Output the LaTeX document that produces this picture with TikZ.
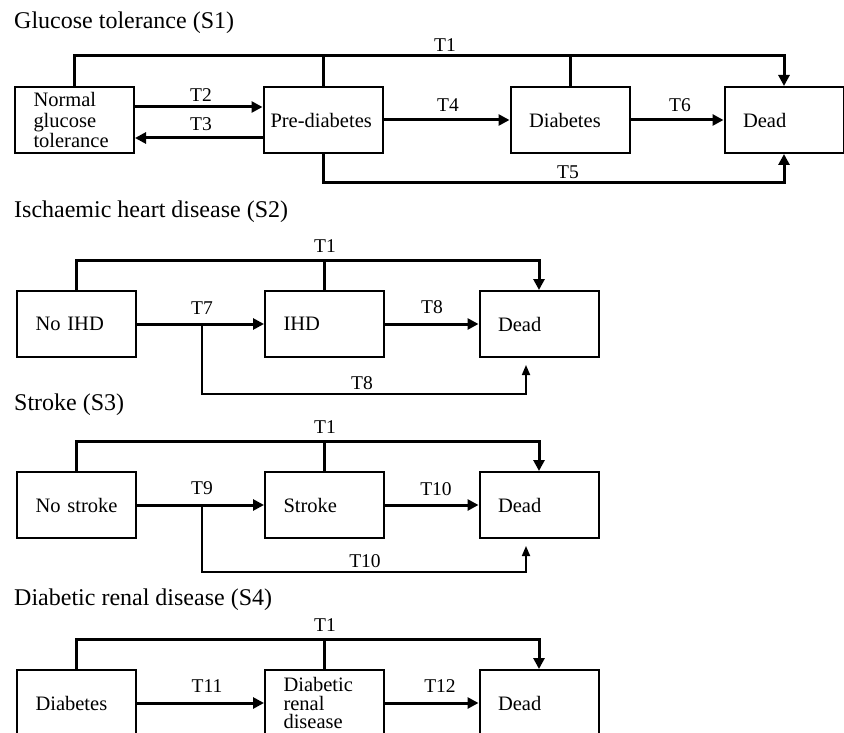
\documentclass[tikz,border=0pt]{standalone}
\usepackage{fontspec}
\setmainfont{Liberation Serif}
\usetikzlibrary{arrows.meta}

\begin{document}
\begin{tikzpicture}[x=1pt, y=-1pt,
        state/.style={rectangle, draw, line width=2pt, minimum height=66pt,
            text width=82pt, inner xsep=18.5pt, inner ysep=0pt, align=left,
            font=\fontsize{20.5}{20.5}\selectfont},
        lbl/.style={inner sep=0pt, font=\fontsize{19.5}{20}\selectfont},
        heading/.style={anchor=base west, inner sep=0pt,
            font=\fontsize{24}{28}\selectfont},
        bus/.style={line width=3pt},
        flow/.style={line width=3pt, -{Triangle[length=11pt, width=11pt]}},
        branch/.style={line width=1.7pt, -{Triangle[length=10pt, width=8pt]},
            shorten >=7pt}]
            \path[use as bounding box, clip] (0, 0) rectangle (844, 733);

            % Glucose tolerance (S1)
            \node (s1) [heading] at (14, 29) {Glucose tolerance (S1)};
            \node (ngt) [state] at (74.5, 120) {Normal\\ glucose\\ tolerance};
            \node (pre) [state, text width=105pt, inner xsep=7pt] at (323, 120) {Pre-diabetes};
            \node (diab) [state] at (570, 120) {Diabetes};
            \node (dead1) [state] at (784, 120) {Dead};
            \node (t1a) [lbl] at (445, 45) {T1};
            \node (t2) [lbl] at (201, 95) {T2};
            \node (t3) [lbl] at (201, 124) {T3};
            \node (t4) [lbl] at (448, 105) {T4};
            \node (t6) [lbl] at (680, 105) {T6};
            \node (t5) [lbl] at (568, 172) {T5};

            \draw[flow] (ngt.north) -- ++(0, -30) -| (dead1.north);
            \draw[bus] (pre.north) -- ++(0, -30);
            \draw[bus] (diab.north) -- ++(0, -30);
            \draw[flow] ([yshift=13pt]ngt.east) -- ([yshift=13pt]pre.west);
            \draw[flow] ([yshift=-18pt]pre.west) -- ([yshift=-18pt]ngt.east);
            \draw[flow] (pre) -- (diab);
            \draw[flow] (diab) -- (dead1);
            \draw[flow] (pre.south) -- ++(0, 29) -| (dead1.south);

            % Ischaemic heart disease (S2)
            \node (s2) [heading] at (14, 218) {Ischaemic heart disease (S2)};
            \node (noihd) [state] at (76.5, 324) {No IHD};
            \node (ihd) [state] at (324.5, 324) {IHD};
            \node (dead2) [state] at (539, 324) {Dead};
            \coordinate (fork2) at (202, 324);
            \node (t1b) [lbl] at (325, 246) {T1};
            \node (t7) [lbl] at (202, 308) {T7};
            \node (t8a) [lbl] at (432, 307) {T8};
            \node (t8b) [lbl] at (362, 383) {T8};

            \draw[flow] (noihd.north) -- ++(0, -30) -| (dead2.north);
            \draw[bus] (ihd.north) -- ++(0, -30);
            \draw[flow] (noihd) -- (ihd);
            \draw[flow] (ihd) -- (dead2);
            \draw[branch] (fork2) -- ++(0, 70) -| ([xshift=-13pt]dead2.south);

            % Stroke (S3)
            \node (s3) [heading] at (14, 410) {Stroke (S3)};
            \node (nostroke) [state] at (76.5, 505) {No stroke};
            \node (stroke) [state] at (324.5, 505) {Stroke};
            \node (dead3) [state] at (539, 505) {Dead};
            \coordinate (fork3) at (202, 505);
            \node (t1c) [lbl] at (325, 427) {T1};
            \node (t9) [lbl] at (202, 488) {T9};
            \node (t10a) [lbl] at (436, 489) {T10};
            \node (t10b) [lbl] at (365, 561) {T10};

            \draw[flow] (nostroke.north) -- ++(0, -30) -| (dead3.north);
            \draw[bus] (stroke.north) -- ++(0, -30);
            \draw[flow] (nostroke) -- (stroke);
            \draw[flow] (stroke) -- (dead3);
            \draw[branch] (fork3) -- ++(0, 67) -| ([xshift=-13pt]dead3.south);

            % Diabetic renal disease (S4)
            \node (s4) [heading] at (14, 605) {Diabetic renal disease (S4)};
            \node (diab4) [state] at (76.5, 703) {Diabetes};
            \node (drd) [state, font=\fontsize{20.5}{18.5}\selectfont] at (324.5, 703) {Diabetic\\ renal\\ disease};
            \node (dead4) [state] at (539, 703) {Dead};
            \node (t1d) [lbl] at (325, 625) {T1};
            \node (t11) [lbl] at (207, 686) {T11};
            \node (t12) [lbl] at (440, 686) {T12};

            \draw[flow] (diab4.north) -- ++(0, -30) -| (dead4.north);
            \draw[bus] (drd.north) -- ++(0, -30);
            \draw[flow] (diab4) -- (drd);
            \draw[flow] (drd) -- (dead4);

        \end{tikzpicture}
\end{document}
